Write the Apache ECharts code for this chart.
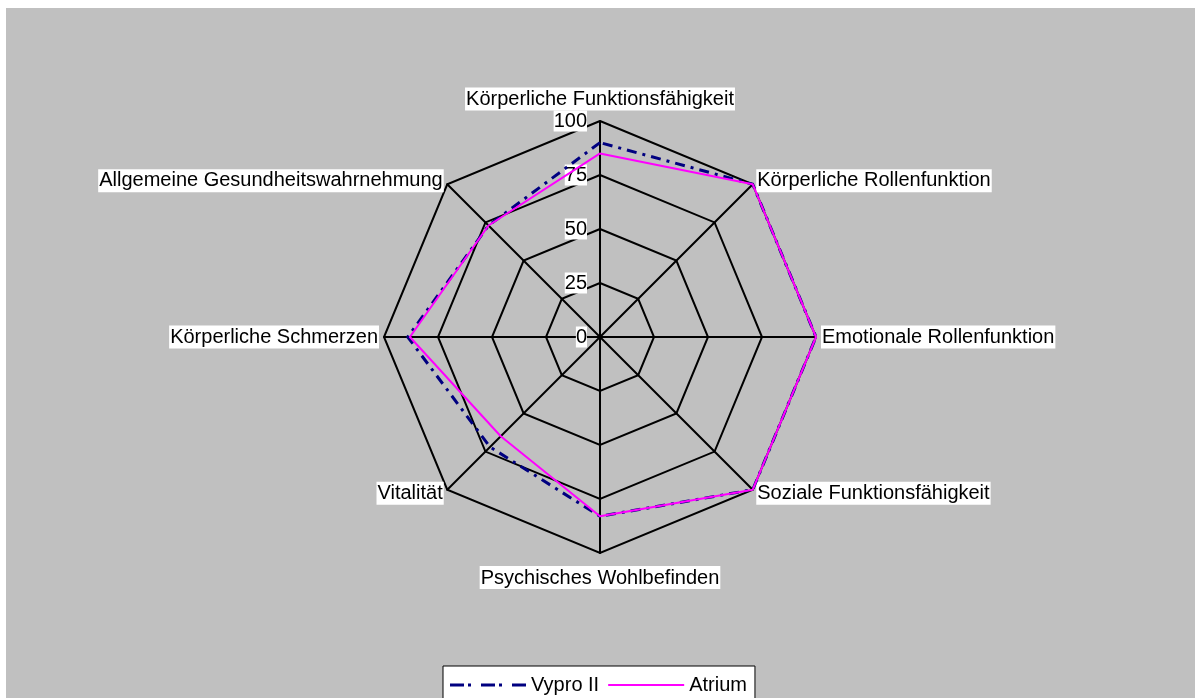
<!DOCTYPE html>
<html>
<head>
    <meta charset="utf-8" />
    <title>SF-36 Radar</title>
    <script src="https://cdn.jsdelivr.net/npm/echarts@6/dist/echarts.min.js"></script>
    <style>
        body { margin: 0; background: #ffffff; }
        #chart { position: absolute; left: 6px; top: 8px; width: 1189px; height: 690px; background: #c0c0c0; }
    </style>
</head>
<body>
    <div id="chart"></div>
    <script type="text/javascript">
        // indicator order: top first, then counter-clockwise (echarts radar layout)
        var categories = [
            'Körperliche Funktionsfähigkeit',
            'Allgemeine Gesundheitswahrnehmung',
            'Körperliche Schmerzen',
            'Vitalität',
            'Psychisches Wohlbefinden',
            'Soziale Funktionsfähigkeit',
            'Emotionale Rollenfunktion',
            'Körperliche Rollenfunktion'
        ];
        var vyproData = [90, 73, 89, 72, 83, 100, 100, 100];
        var atriumData = [85, 73, 88, 65, 83, 100, 100, 100];
        var seriesNames = ['Vypro II', 'Atrium'];
        var axisMax = 100;

        var font = 'Liberation Sans, Arial, sans-serif';
        var chart = echarts.init(document.getElementById('chart'));

        var indicators = categories.map(function (name, i) {
            var ind = { name: name, max: axisMax, min: 0 };
            if (i === 0) {
                ind.nameGap = 10;
            }
            if (i === 4) {
                ind.nameGap = 13;
            }
            if (i === 0) {
                ind.axisLabel = {
                    show: true,
                    color: '#000',
                    fontSize: 20,
                    fontFamily: font,
                    backgroundColor: '#fff',
                    padding: [1, 0, 0, 0],
                    margin: 13
                };
            }
            return ind;
        });

        var option = {
            animation: false,
            radar: {
                center: [594, 329],
                radius: 216,
                startAngle: 90,
                splitNumber: 4,
                shape: 'polygon',
                indicator: indicators,
                nameGap: 5,
                axisName: {
                    color: '#000',
                    fontSize: 20,
                    fontFamily: font,
                    backgroundColor: '#fff',
                    padding: [2, 1, 1, 1]
                },
                axisLine: { lineStyle: { color: '#000', width: 2 } },
                splitLine: { lineStyle: { color: '#000', width: 2 } },
                splitArea: { show: false },
                axisTick: { show: false },
                axisLabel: { show: false }
            },
            legend: {
                data: [{
                    name: seriesNames[0],
                    icon: 'path://M0,0h14v3h-14z M18,0h3v3h-3z M31,0h14v3h-14z M49,0h3v3h-3z M62,0h14v3h-14z'
                }, {
                    name: seriesNames[1],
                    icon: 'path://M0,0.5h76v2h-76z'
                }],
                left: 437,
                top: 658,
                orient: 'horizontal',
                backgroundColor: '#fff',
                borderColor: '#000',
                borderWidth: 1,
                padding: [9, 8, 12, 7],
                itemWidth: 76,
                itemHeight: 3,
                itemGap: 9,
                itemStyle: { borderWidth: 0 },
                textStyle: {
                    color: '#000',
                    fontSize: 20,
                    fontFamily: font
                }
            },
            series: [{
                type: 'radar',
                symbol: 'none',
                data: [{
                    name: seriesNames[0],
                    value: vyproData,
                    lineStyle: { color: '#000080', width: 3, type: [10, 6, 3, 6] },
                    itemStyle: { color: '#000080' }
                }, {
                    name: seriesNames[1],
                    value: atriumData,
                    lineStyle: { color: '#ff00ff', width: 2 },
                    itemStyle: { color: '#ff00ff' }
                }]
            }]
        };
        chart.setOption(option);
    </script>
</body>
</html>
